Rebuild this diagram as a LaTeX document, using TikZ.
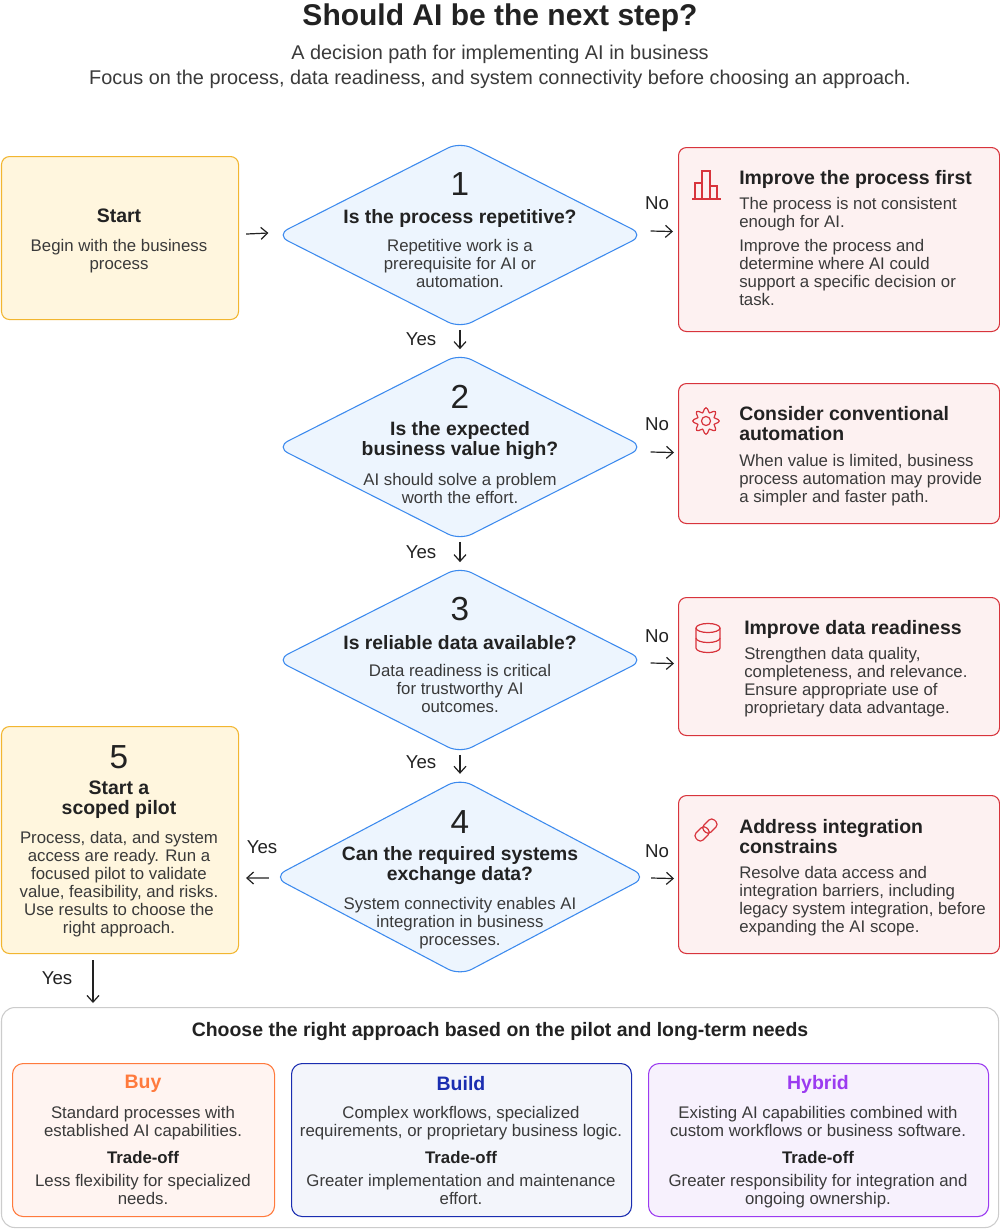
\documentclass[tikz,border=0pt]{standalone}
\usepackage{fontspec}
\setmainfont{Liberation Sans}
\usetikzlibrary{shapes.geometric,arrows.meta,calc}
\definecolor{txt}{HTML}{3A3A3A}
\definecolor{hd}{HTML}{222222}
\definecolor{yfill}{HTML}{FFF6DE}
\definecolor{yline}{HTML}{F2B630}
\definecolor{bfill}{HTML}{EDF5FE}
\definecolor{bline}{HTML}{3C8AEE}
\definecolor{rfill}{HTML}{FDF1F1}
\definecolor{rline}{HTML}{D8343C}
\definecolor{buyc}{HTML}{FF7A3D}
\definecolor{buyf}{HTML}{FFF4F1}
\definecolor{buildc}{HTML}{1A2DB0}
\definecolor{buildf}{HTML}{F3F5FB}
\definecolor{hybc}{HTML}{9B3BF0}
\definecolor{hybf}{HTML}{F7F1FD}
\begin{document}
\begin{tikzpicture}[x=0.75pt,y=-0.75pt,
  body/.style={font=\fontsize{12.6}{13.5}\selectfont,text=txt,align=center,inner sep=0,yshift=-2pt},
  bodyl/.style={body,align=left,anchor=north west},
  head/.style={font=\bfseries\fontsize{14.6}{15}\selectfont,text=hd,align=center,inner sep=0},
  headl/.style={head,align=left,anchor=north west,yshift=-1.5pt},
  qst/.style={head,font=\bfseries\fontsize{14.5}{15}\selectfont},
  trd/.style={head,font=\bfseries\fontsize{12.6}{14}\selectfont},
  num/.style={font=\fontsize{25}{27}\selectfont,text=hd,inner sep=0},
  ybox/.style={draw=yline,fill=yfill,rounded corners=6pt,line width=0.8pt},
  rbox/.style={draw=rline,fill=rfill,rounded corners=6pt,line width=0.8pt},
  dia/.style={diamond,draw=bline,fill=bfill,line width=0.8pt,rounded corners=10pt,inner sep=0},
  arr/.style={-{Straight Barb[length=5pt,width=9pt]},line width=0.9pt,draw=hd},
  lab/.style={font=\fontsize{14}{15}\selectfont,text=hd,inner sep=0},
  icon/.style={draw=rline,line width=0.9pt}]
\useasboundingbox (0,0) rectangle (1000,1229);
\fill[white] (0,0) rectangle (1000,1229);
% title
\node[font=\bfseries\fontsize{22.5}{24}\selectfont,text=hd] (title) at (500,18) {Should AI be the next step?};
\node[font=\fontsize{14.9}{19}\selectfont,text=txt,align=center] (sub) at (500,67) {A decision path for implementing AI in business\\Focus on the process, data readiness, and system connectivity before choosing an approach.};
% start
\node[ybox,minimum width=177.75pt,minimum height=122.25pt,anchor=north west] (start) at (1,156) {};
\node[head] (starth) at (119,216) {Start};
\node[body,anchor=north] (startt) at (119,236) {Begin with the business\\process};
% diamonds
\node[dia,minimum width=276pt,minimum height=140pt] (d1) at (460,235) {};
\node[dia,minimum width=276pt,minimum height=140pt] (d2) at (460,447) {};
\node[dia,minimum width=276pt,minimum height=140pt] (d3) at (460,660) {};
\node[dia,minimum width=280pt,minimum height=148pt] (d4) at (460,877) {};
\node[num] (n1) at (460,184) {1};
\node[qst] (q1) at (460,218) {Is the process repetitive?};
\node[body,anchor=north] (t1) at (460,236) {Repetitive work is a\\prerequisite for AI or\\automation.};
\node[num] (n2) at (460,397) {2};
\node[qst] (q2) at (460,441) {Is the expected\\business value high?};
\node[body,anchor=north] (t2) at (460,470) {AI should solve a problem\\worth the effort.};
\node[num] (n3) at (460,609) {3};
\node[qst] (q3) at (460,643) {Is reliable data available?};
\node[body,anchor=north] (t3) at (460,661) {Data readiness is critical\\for trustworthy AI\\outcomes.};
\node[num] (n4) at (460,822) {4};
\node[qst] (q4) at (460,866) {Can the required systems\\exchange data?};
\node[body,anchor=north] (t4) at (460,894) {System connectivity enables AI\\integration in business\\processes.};
% right boxes
\node[rbox,minimum width=240.75pt,minimum height=138pt,anchor=north west] (b1) at (678,147) {};
\node[headl] (b1h) at (739,168) {Improve the process first};
\node[bodyl] (b1t) at (739,194) {The process is not consistent\\enough for AI.};
\node[bodyl] (b1u) at (739,236) {Improve the process and\\determine where AI could\\support a specific decision or\\task.};
\node[rbox,minimum width=240.75pt,minimum height=105pt,anchor=north west] (b2) at (678,383) {};
\node[headl] (b2h) at (739,404) {Consider conventional\\automation};
\node[bodyl] (b2t) at (739,451) {When value is limited, business\\process automation may provide\\a simpler and faster path.};
\node[rbox,minimum width=240.75pt,minimum height=103.5pt,anchor=north west] (b3) at (678,597) {};
\node[headl] (b3h) at (744,618) {Improve data readiness};
\node[bodyl] (b3t) at (744,644) {Strengthen data quality,\\completeness, and relevance.\\Ensure appropriate use of\\proprietary data advantage.};
\node[rbox,minimum width=240.75pt,minimum height=118.5pt,anchor=north west] (b4) at (678,795) {};
\node[headl] (b4h) at (739,817) {Address integration\\constrains};
\node[bodyl] (b4t) at (739,863) {Resolve data access and\\integration barriers, including\\legacy system integration, before\\expanding the AI scope.};
% icons
\draw[icon] (692,199) -- (721,199);
\draw[icon] (695,199) -- (695,183) -- (702,183) -- (702,199);
\draw[icon] (702,199) -- (702,171) -- (710,171) -- (710,199);
\draw[icon] (710,199) -- (710,186) -- (717,186) -- (717,199);
\coordinate (gc) at (706,421);
\draw[icon] (gc) circle[radius=3.4pt];
\draw[icon] plot[domain=0:360,samples=49,smooth cycle] ({706+(11+2.2*cos(8*\x))*cos(\x)},{421+(11+2.2*cos(8*\x))*sin(\x)});
\draw[icon] (696,628) -- (696,648) arc[start angle=180,end angle=360,x radius=9pt,y radius=3.4pt] -- (720,628);
\draw[icon] (708,628) ellipse[x radius=9pt,y radius=3.4pt];
\draw[icon] (696,638) arc[start angle=180,end angle=360,x radius=9pt,y radius=3.4pt];
\draw[icon,rounded corners=3pt,rotate around={45:(706,830)}] (693,825) rectangle (708,835);
\draw[icon,rounded corners=3pt,rotate around={45:(706,830)}] (704,825) rectangle (719,835);
% box 5
\node[ybox,minimum width=177.75pt,minimum height=170.25pt,anchor=north west] (b5) at (1,726) {};
\node[num] (n5) at (119,757) {5};
\node[head] (b5h) at (119,800) {Start a\\scoped pilot};
\node[body,anchor=north] (b5t) at (119,828) {Process, data, and system\\access are ready. Run a\\focused pilot to validate\\value, feasibility, and risks.\\Use results to choose the\\right approach.};
% connectors
\draw[arr] ($(start.east)+(7,-4)$) -- ($(d1.west)+(-7,-2)$);
\draw[arr] ($(d1.east)+(6,-4)$) -- ($(b1.west)+(-5,-8)$);
\draw[arr] ($(d1.south)+(0,1)$) -- ($(d2.north)+(0,-4)$);
\draw[arr] ($(d2.south)+(0,1)$) -- ($(d3.north)+(0,-4)$);
\draw[arr] ($(d3.south)+(0,1)$) -- ($(d4.north)+(0,-4)$);
\draw[arr] ($(d2.east)+(6,5)$) -- ($(b2.west)+(-4,-1)$);
\draw[arr] ($(d3.east)+(6,3)$) -- ($(b3.west)+(-4,-3)$);
\draw[arr] ($(d4.east)+(4,1)$) -- ($(b4.west)+(-4,4)$);
\draw[arr] ($(d4.west)+(-4,1)$) -- ($(b5.east)+(7,38)$);
\coordinate (c5) at (93,960);
\coordinate (c6) at (93,1003);
\draw[arr] (c5) -- (c6);
\node[lab] (no1) at (657,203) {No};
\node[lab] (no2) at (657,424) {No};
\node[lab] (no3) at (657,636) {No};
\node[lab] (no4) at (657,851) {No};
\node[lab] (y1) at (421,339) {Yes};
\node[lab] (y2) at (421,552) {Yes};
\node[lab] (y3) at (421,762) {Yes};
\node[lab] (y4) at (262,847) {Yes};
\node[lab] (y5) at (57,978) {Yes};
% bottom
\node[draw=black!20,fill=white,rounded corners=10pt,line width=0.8pt,minimum width=747.75pt,minimum height=165pt,anchor=north west] (bot) at (1,1007) {};
\node[head] (both) at (500,1031) {Choose the right approach based on the pilot and long-term needs};
\node[draw=buyc,fill=buyf,rounded corners=8pt,line width=0.8pt,minimum width=196.5pt,minimum height=114.75pt,anchor=north west] (buy) at (12,1063) {};
\node[draw=buildc,fill=buildf,rounded corners=8pt,line width=0.8pt,minimum width=255pt,minimum height=114.75pt,anchor=north west] (build) at (291,1063) {};
\node[draw=hybc,fill=hybf,rounded corners=8pt,line width=0.8pt,minimum width=255pt,minimum height=114.75pt,anchor=north west] (hyb) at (648,1063) {};
\node[head,text=buyc] (buyh) at (143,1084) {Buy};
\node[body,anchor=north] (buyt) at (143,1103) {Standard processes with\\established AI capabilities.};
\node[trd] (buyo) at (143,1157) {Trade-off};
\node[body,anchor=north] (buyu) at (143,1171) {Less flexibility for specialized\\needs.};
\node[head,text=buildc] (buildh) at (461,1084) {Build};
\node[body,anchor=north] (buildt) at (461,1103) {Complex workflows, specialized\\requirements, or proprietary business logic.};
\node[trd] (buildo) at (461,1157) {Trade-off};
\node[body,anchor=north] (buildu) at (461,1171) {Greater implementation and maintenance\\effort.};
\node[head,text=hybc] (hybh) at (818,1084) {Hybrid};
\node[body,anchor=north] (hybt) at (818,1103) {Existing AI capabilities combined with\\custom workflows or business software.};
\node[trd] (hybo) at (818,1157) {Trade-off};
\node[body,anchor=north] (hybu) at (818,1171) {Greater responsibility for integration and\\ongoing ownership.};
\end{tikzpicture}
\end{document}
